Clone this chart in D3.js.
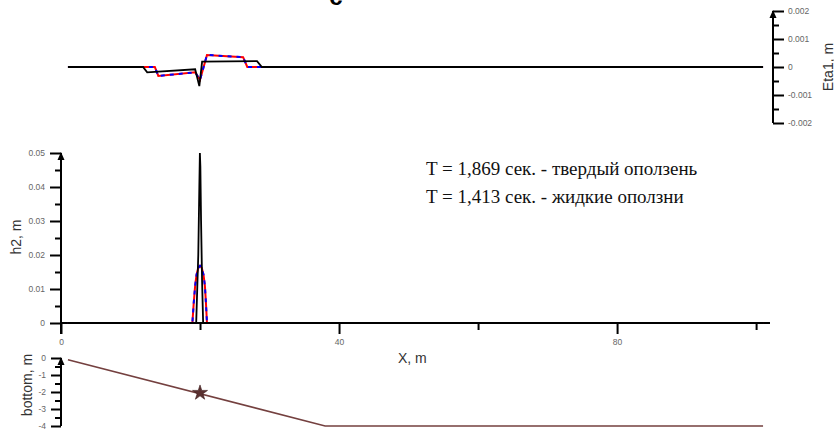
<!DOCTYPE html>
<html><head><meta charset="utf-8">
<script src="https://cdn.jsdelivr.net/npm/d3@7"></script>
<style>body{margin:0;background:#fff}svg{display:block}</style>
</head><body>
<svg id="c" width="834" height="431"></svg>
<script>
// ---- data ----
const etaSolid = [[1,0],[11.8,0],[12.4,-0.00019],[19.3,-0.00008],[19.9,-0.00068],[20.3,0.00019],[28.2,0.00021],[28.9,0],[101,0]];
const etaLiquid = [[1,0],[13.5,0],[14.0,-0.00032],[19.3,-0.00019],[20.0,-0.00046],[21.0,0.00043],[26.2,0.00035],[26.8,0],[101,0]];
const h2Solid = [[1,0],[19.45,0],[19.75,0.02],[19.9,0.04],[19.98,0.05],[20.05,0.046],[20.15,0.03],[20.3,0.012],[20.45,0],[101,0]];
const h2Liquid = [[1,0],[18.9,0],[19.1,0.006],[19.3,0.011],[19.5,0.0142],[19.75,0.0162],[20.0,0.0168],[20.25,0.0162],[20.5,0.0142],[20.7,0.011],[20.85,0.006],[21.0,0],[101,0]];
const bottomProfile = [[1,-0.1],[38,-4],[101,-4]];
const starPoint = [20,-2.05];
const xMajor = [0,40,80], xMinor = [20,60,100];
const etaMajor = [-0.002,-0.001,0,0.001,0.002], etaMinor = [-0.0015,-0.0005,0.0005,0.0015];
const hMajor = [0,0.01,0.02,0.03,0.04,0.05], hMinor = [0.005,0.015,0.025,0.035,0.045];
const bMajor = [0,-1,-2,-3,-4], bMinor = [-0.5,-1.5,-2.5,-3.5];
const legendLines = ["T = 1,869 сек. - твердый оползень","T = 1,413 сек. - жидкие оползни"];

const svg = d3.select("#c");
const x = d3.scaleLinear().domain([0,102]).range([61,770]);
const yE = d3.scaleLinear().domain([-0.002,0.002]).range([123,11]);
const yH = d3.scaleLinear().domain([0,0.05]).range([323,153]);
const yB = d3.scaleLinear().domain([-4,0]).range([426,358]);
const tickFont = "Liberation Sans, Arial, sans-serif";

function styleAxis(g){
  g.select(".domain").remove();
  g.selectAll(".tick line").attr("stroke","#000").attr("stroke-width",2);
  g.selectAll(".tick text").attr("fill","#666").attr("font-size",8.5).attr("font-family",tickFont);
}
function arrow(xp, yp){
  svg.append("path").attr("d",`M${xp},${yp-1} L${xp-3.5},${yp+7} L${xp+3.5},${yp+7} Z`).attr("fill","#000");
}

// ---- top panel (Eta1) right axis ----
const ax = 773;
svg.append("line").attr("x1",ax).attr("x2",ax).attr("y1",yE(0.002)).attr("y2",yE(-0.002)).attr("stroke","#000").attr("stroke-width",2);
svg.append("g").attr("transform",`translate(${ax},0)`).call(d3.axisRight(yE).tickValues(etaMajor).tickSize(11).tickPadding(4).tickFormat(d=>d===0?"0":d3.format(".3f")(d).replace("−","-"))).call(styleAxis);
svg.append("g").attr("transform",`translate(${ax},0)`).call(d3.axisRight(yE).tickValues(etaMinor).tickSize(6).tickFormat("")).call(styleAxis);
arrow(ax, yE(0.002));
svg.append("text").attr("transform",`translate(833,${yE(0)}) rotate(-90)`).attr("text-anchor","middle")
  .attr("font-family",tickFont).attr("font-size",14).attr("fill","#333").text("Eta1, m");

const lineE = d3.line().x(d=>x(d[0])).y(d=>yE(d[1]));
svg.append("path").datum(etaLiquid).attr("d",lineE).attr("fill","none").attr("stroke","#ff0000").attr("stroke-width",2);
svg.append("path").datum(etaLiquid).attr("d",lineE).attr("fill","none").attr("stroke","#0000ff").attr("stroke-width",2).attr("stroke-dasharray","4,5");
svg.append("path").datum(etaSolid).attr("d",lineE).attr("fill","none").attr("stroke","#000").attr("stroke-width",1.8);

// title fragment (cut off at top as in the reference)
svg.append("text").attr("x",336).attr("y",5).attr("text-anchor","middle").attr("font-family",tickFont).attr("font-size",24).attr("font-weight","bold").attr("fill","#000").text("c");

// ---- middle panel (h2) ----
svg.append("line").attr("x1",x(0)).attr("x2",x(102)).attr("y1",yH(0)).attr("y2",yH(0)).attr("stroke","#000").attr("stroke-width",2);
svg.append("line").attr("x1",x(0)).attr("x2",x(0)).attr("y1",yH(0.05)).attr("y2",yH(0)+11).attr("stroke","#000").attr("stroke-width",2);
svg.append("g").attr("transform",`translate(${x(0)},0)`).call(d3.axisLeft(yH).tickValues(hMajor).tickSize(11).tickPadding(5).tickFormat(d=>d===0?"0":d3.format(".2f")(d))).call(styleAxis);
svg.append("g").attr("transform",`translate(${x(0)},0)`).call(d3.axisLeft(yH).tickValues(hMinor).tickSize(6).tickFormat("")).call(styleAxis);
svg.append("g").attr("transform",`translate(0,${yH(0)})`).call(d3.axisBottom(x).tickValues(xMajor).tickSize(11).tickPadding(5)).call(styleAxis);
svg.append("g").attr("transform",`translate(0,${yH(0)})`).call(d3.axisBottom(x).tickValues(xMinor).tickSize(7).tickFormat("")).call(styleAxis);
arrow(x(0), yH(0.05));
svg.append("text").attr("transform",`translate(21,${237}) rotate(-90)`).attr("text-anchor","middle")
  .attr("font-family",tickFont).attr("font-size",14).attr("fill","#333").text("h2, m");
svg.append("text").attr("x",398).attr("y",363).attr("font-family",tickFont).attr("font-size",14).attr("fill","#333").text("X, m");

const lineH = d3.line().x(d=>x(d[0])).y(d=>yH(d[1]));
svg.append("path").datum(h2Liquid).attr("d",lineH).attr("fill","none").attr("stroke","#ff0000").attr("stroke-width",2);
svg.append("path").datum(h2Liquid).attr("d",lineH).attr("fill","none").attr("stroke","#0000ff").attr("stroke-width",2).attr("stroke-dasharray","4,5");
svg.append("path").datum(h2Solid).attr("d",lineH).attr("fill","none").attr("stroke","#000").attr("stroke-width",1.8);

svg.selectAll("text.leg").data(legendLines).join("text").attr("class","leg")
  .attr("x",426).attr("y",(d,i)=>175+i*28).attr("font-family","Liberation Serif, Times New Roman, serif")
  .attr("font-size",19).attr("fill","#111").text(d=>d);

// ---- bottom panel ----
svg.append("line").attr("x1",x(0)).attr("x2",x(0)).attr("y1",yB(0)).attr("y2",yB(-4)).attr("stroke","#000").attr("stroke-width",2);
svg.append("g").attr("transform",`translate(${x(0)},0)`).call(d3.axisLeft(yB).tickValues(bMajor).tickSize(10).tickPadding(5).tickFormat(d=>String(d))).call(styleAxis);
svg.append("g").attr("transform",`translate(${x(0)},0)`).call(d3.axisLeft(yB).tickValues(bMinor).tickSize(6).tickFormat("")).call(styleAxis);
arrow(x(0), yB(0));
svg.append("text").attr("transform",`translate(32,${385}) rotate(-90)`).attr("text-anchor","middle")
  .attr("font-family",tickFont).attr("font-size",14).attr("fill","#333").text("bottom, m");
const lineB = d3.line().x(d=>x(d[0])).y(d=>yB(d[1]));
svg.append("path").datum(bottomProfile).attr("d",lineB).attr("fill","none").attr("stroke","#74403f").attr("stroke-width",1.6);
svg.append("path").attr("d",d3.symbol(d3.symbolStar,70)()).attr("transform",`translate(${x(starPoint[0])},${yB(starPoint[1])})`).attr("fill","#5a3030").attr("stroke","#3a1a1a").attr("stroke-width",0.6);
</script>
</body></html>
